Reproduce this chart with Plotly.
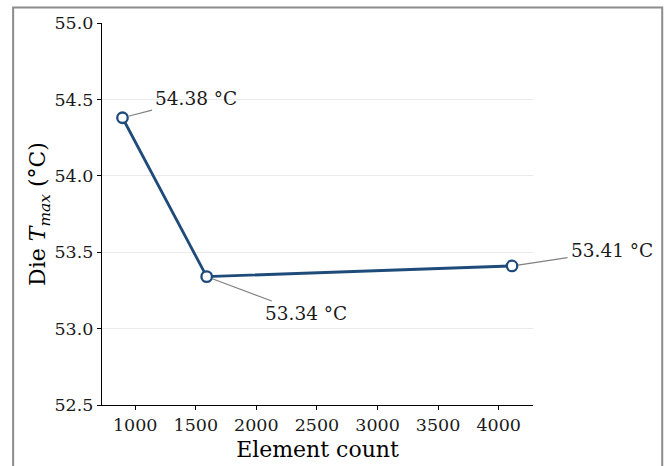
import plotly.graph_objects as go

element_count = [895, 1590, 4110]
die_tmax = [54.38, 53.34, 53.41]
labels = ["54.38 °C", "53.34 °C", "53.41 °C"]
label_offsets = [(74, -19), (99, 37), (100, -15)]

x_ticks = [1000, 1500, 2000, 2500, 3000, 3500, 4000]
y_ticks = [52.5, 53.0, 53.5, 54.0, 54.5, 55.0]

FONT = "DejaVu Serif"
LINE = "#1f4b7a"
TXT = "#1a1a1a"

fig = go.Figure()
fig.add_trace(go.Scatter(
    x=element_count, y=die_tmax, mode="lines+markers",
    line=dict(color=LINE, width=2.8),
    marker=dict(size=10.5, color="white", line=dict(color=LINE, width=2.3)),
    hoverinfo="skip", showlegend=False,
))

for xv, yv, t, (ax, ay) in zip(element_count, die_tmax, labels, label_offsets):
    fig.add_annotation(
        x=xv, y=yv, text=t, showarrow=True, arrowhead=0, arrowwidth=1.2,
        arrowcolor="#808080", ax=ax, ay=ay, standoff=6, startstandoff=2,
        font=dict(family=FONT, size=18.5, color=TXT),
    )

# outer frame
fig.add_shape(type="rect", xref="paper", yref="paper",
              x0=-0.2062, x1=1.2998, y0=-0.3, y1=1.0403,
              line=dict(color="#8c8c8c", width=2), layer="below")

axis_common = dict(
    showline=True, linecolor="black", linewidth=1.2,
    ticks="outside", ticklen=4, tickwidth=1, tickcolor="black",
    tickfont=dict(family=FONT, size=17.5, color=TXT),
    zeroline=False, mirror=False, automargin=False,
)

fig.update_xaxes(
    range=[726, 4283], tickvals=x_ticks, ticktext=[str(v) for v in x_ticks],
    showgrid=False,
    title=dict(text="Element count", font=dict(family=FONT, size=22, color="black"), standoff=7),
    **axis_common,
)
fig.update_yaxes(
    range=[52.5, 55.0], tickvals=y_ticks, ticktext=[f"{v:.1f}" for v in y_ticks],
    showgrid=True, gridcolor="#e9e9e9", gridwidth=1,
    title=dict(text="Die <i>T</i><sub><i>max</i></sub> (°C)",
               font=dict(family=FONT, size=22, color="black"), standoff=2),
    **axis_common,
)

fig.update_layout(
    width=666, height=466,
    margin=dict(l=102, r=133, t=23, b=61),
    paper_bgcolor="white", plot_bgcolor="white",
    font=dict(family=FONT, color=TXT),
)

fig.write_html("out.html")
